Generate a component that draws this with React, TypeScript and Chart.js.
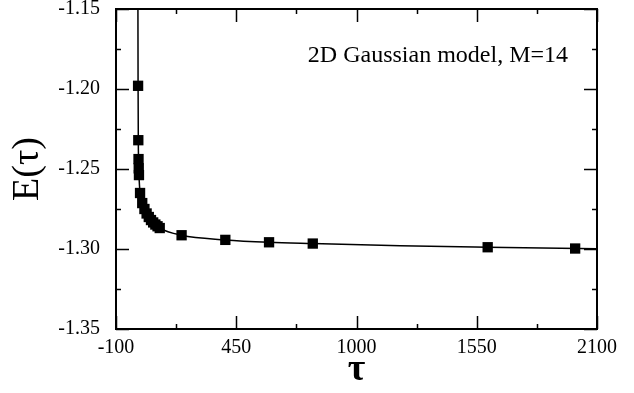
import React, { useEffect, useRef } from "react";
import { Chart, registerables } from "chart.js";

Chart.register(...registerables);

// Data
const tauValues = [1, 2, 3, 4, 5, 10, 20, 30, 40, 50, 60, 70, 80, 90, 100, 200, 400, 600, 800, 1600, 2000];
const energyValues = [
  -1.198, -1.232, -1.2438, -1.2496, -1.2538, -1.265, -1.2713, -1.275, -1.2778, -1.28, -1.2819,
  -1.2834, -1.2847, -1.2858, -1.2869, -1.2914, -1.2943, -1.2958, -1.2966, -1.2989, -1.2997,
];
// Fitted curve
const fitTau = [0.3, 1, 2, 3, 4, 5, 10, 20, 40, 70, 100, 200, 400, 600, 800, 1200, 1600, 2100];
const fitEnergy = [
  -1.15, -1.198, -1.232, -1.2438, -1.2496, -1.2538, -1.265, -1.2713, -1.2778, -1.2834, -1.2869,
  -1.2914, -1.2943, -1.2958, -1.2966, -1.298, -1.2989, -1.2998,
];
const xTicks = [-100, 450, 1000, 1550, 2100];
const yTicks = [-1.35, -1.3, -1.25, -1.2, -1.15];
const annotationText = "2D Gaussian model, M=14";
const xTitle = "τ";
const yTitle = "E(τ)";

const SERIF = '"Liberation Serif", "Times New Roman", serif';

const framePlugin = {
  id: "frame",
  afterDatasetsDraw(chart: any) {
    const { ctx, chartArea } = chart;
    const { left, right, top, bottom } = chartArea;
    const xs = chart.scales.x;
    const ys = chart.scales.y;
    ctx.save();
    ctx.strokeStyle = "#000";
    ctx.lineWidth = 2;
    ctx.strokeRect(left, top, right - left, bottom - top);
    ctx.lineWidth = 1.5;
    const major = 13;
    const minor = 5;
    ctx.beginPath();
    for (let i = 0; i < xTicks.length; i++) {
      const px = Math.round(xs.getPixelForValue(xTicks[i])) + 0.5;
      ctx.moveTo(px, bottom);
      ctx.lineTo(px, bottom - major);
      ctx.moveTo(px, top);
      ctx.lineTo(px, top + major);
      if (i < xTicks.length - 1) {
        const mx = Math.round(xs.getPixelForValue((xTicks[i] + xTicks[i + 1]) / 2)) + 0.5;
        ctx.moveTo(mx, bottom);
        ctx.lineTo(mx, bottom - minor);
        ctx.moveTo(mx, top);
        ctx.lineTo(mx, top + minor);
      }
    }
    for (let i = 0; i < yTicks.length; i++) {
      const py = Math.round(ys.getPixelForValue(yTicks[i])) + 0.5;
      ctx.moveTo(left, py);
      ctx.lineTo(left + major, py);
      ctx.moveTo(right, py);
      ctx.lineTo(right - major, py);
      if (i < yTicks.length - 1) {
        const my = Math.round(ys.getPixelForValue((yTicks[i] + yTicks[i + 1]) / 2)) + 0.5;
        ctx.moveTo(left, my);
        ctx.lineTo(left + minor, my);
        ctx.moveTo(right, my);
        ctx.lineTo(right - minor, my);
      }
    }
    ctx.stroke();

    ctx.fillStyle = "#000";
    ctx.font = `24px ${SERIF}`;
    ctx.textAlign = "right";
    ctx.textBaseline = "alphabetic";
    ctx.fillText(annotationText, 568, 62);
    ctx.restore();
  },
};

export default function App() {
  const canvasRef = useRef<HTMLCanvasElement | null>(null);

  useEffect(() => {
    const canvas = canvasRef.current;
    if (!canvas) return;
    const chart = new Chart(canvas, {
      type: "scatter",
      data: {
        datasets: [
          {
            type: "line",
            label: "fit",
            data: fitTau.map((t, i) => ({ x: t, y: fitEnergy[i] })),
            borderColor: "#000",
            borderWidth: 1.5,
            pointRadius: 0,
            fill: false,
            cubicInterpolationMode: "monotone",
            order: 2,
          } as any,
          {
            label: "E(τ)",
            data: tauValues.map((t, i) => ({ x: t, y: energyValues[i] })),
            pointStyle: "rect",
            pointRadius: 7.3,
            pointBackgroundColor: "#000",
            pointBorderColor: "#000",
            pointBorderWidth: 0,
            showLine: false,
            order: 1,
          },
        ],
      },
      options: {
        animation: false,
        responsive: false,
        maintainAspectRatio: false,
        events: [],
        layout: { padding: { top: 9, right: 37, left: 0, bottom: 0 } },
        plugins: {
          legend: { display: false },
          tooltip: { enabled: false },
        },
        scales: {
          x: {
            type: "linear",
            min: -100,
            max: 2100,
            grid: { display: false, drawTicks: false },
            border: { display: false },
            afterBuildTicks: (scale: any) => {
              scale.ticks = xTicks.map((v) => ({ value: v }));
            },
            afterFit: (scale: any) => {
              scale.height = 64;
              scale.paddingLeft = 0;
              scale.paddingRight = 0;
              scale.paddingTop = 0;
              scale.paddingBottom = 0;
            },
            ticks: {
              color: "#000",
              padding: 7,
              maxRotation: 0,
              autoSkip: false,
              font: { family: SERIF, size: 20 },
              callback: (v: any) => String(v),
            },
            title: {
              display: true,
              text: xTitle,
              color: "#000",
              font: { family: SERIF, size: 38, weight: "bold" },
              padding: { top: 0, bottom: 0 },
            },
          },
          y: {
            type: "linear",
            min: -1.35,
            max: -1.15,
            grid: { display: false, drawTicks: false },
            border: { display: false },
            afterBuildTicks: (scale: any) => {
              scale.ticks = yTicks.map((v) => ({ value: v }));
            },
            afterFit: (scale: any) => {
              scale.width = 116;
              scale.paddingLeft = 0;
              scale.paddingRight = 0;
              scale.paddingTop = 0;
              scale.paddingBottom = 0;
            },
            ticks: {
              color: "#000",
              padding: 16,
              autoSkip: false,
              font: { family: SERIF, size: 20 },
              callback: (v: any) => Number(v).toFixed(2),
            },
            title: {
              display: true,
              text: yTitle,
              color: "#000",
              font: { family: SERIF, size: 38 },
              padding: { top: 5, bottom: 0 },
            },
          },
        },
      },
      plugins: [framePlugin],
    });
    return () => chart.destroy();
  }, []);

  return (
    <div style={{ position: "fixed", left: 0, top: 0, width: 634, height: 393, background: "#fff" }}>
      <canvas ref={canvasRef} width={634} height={393} style={{ display: "block", width: 634, height: 393 }} />
    </div>
  );
}
